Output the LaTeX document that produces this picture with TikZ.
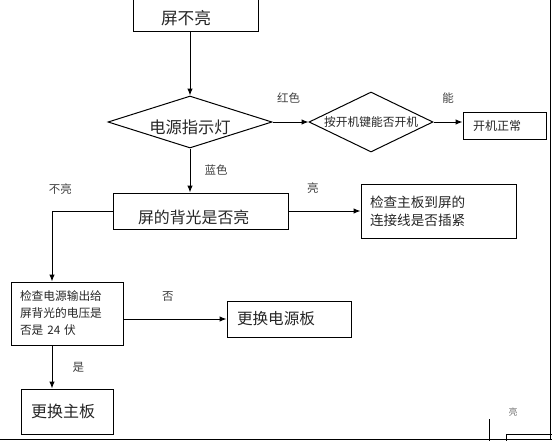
\documentclass[tikz,border=0pt]{standalone}
\usepackage{fontspec}
\newfontfamily\cjk{Noto Sans CJK SC}
\usetikzlibrary{shapes.geometric,arrows.meta}
\tikzset{
  box/.style={draw,rectangle,inner ysep=0pt,align=left,text=black!85},
  choice/.style={draw,diamond,inner sep=0pt,text=black!85},
  tag/.style={inner sep=0pt,text=black!75,font=\cjk\fontsize{11.5}{14}\selectfont},
}
\begin{document}
\begin{tikzpicture}[>={Latex[length=7pt,width=5.5pt]},x=1pt,y=-1pt,line width=1pt]
      \useasboundingbox (0,0) rectangle (552,440);

      \path (195.5,32) node [box,anchor=south,inner xsep=28pt,text width=69pt,text height=40pt,text depth=6.7pt,font=\cjk\fontsize{16.7}{20}\selectfont](box_dark){屏不亮};
      \path (190,122) node [choice,aspect=3.2,minimum width=164pt,minimum height=52pt,text height=24pt,text depth=1.6pt,font=\cjk\fontsize{16.3}{20}\selectfont](dia_power){电源指示灯};
      \path (371,122) node [choice,aspect=2,minimum width=124pt,minimum height=60pt,font=\cjk\fontsize{11.75}{14}\selectfont](dia_check){按开机键能否开机};
      \path (504.5,125.5) node [box,inner xsep=10pt,text width=63pt,minimum height=27pt,font=\cjk\fontsize{12}{14}\selectfont](box_ok){开机正常};
      \path (200.5,211) node [box,inner xsep=25pt,text width=125pt,minimum height=36pt,text height=26pt,text depth=2pt,font=\cjk\fontsize{15.9}{18}\selectfont](box_back){屏的背光是否亮};
      \path (438.5,211) node [box,inner xsep=9pt,text width=137pt,minimum height=54pt,font=\cjk\fontsize{13.6}{18}\selectfont](box_link){检查主板到屏的\\连接线是否插紧};
      \path (67,313.5) node [box,inner xsep=9pt,text width=94pt,minimum height=63pt,font=\cjk\fontsize{11.7}{17}\selectfont](box_power){检查电源输出给\\屏背光的电压是\\否是 24 伏};
      \path (289,319) node [box,inner xsep=10pt,text width=104pt,minimum height=36pt,font=\cjk\fontsize{15.6}{18}\selectfont](box_psu){更换电源板};
      \path (67,411.5) node [box,inner xsep=10pt,text width=72pt,minimum height=45pt,font=\cjk\fontsize{16}{18}\selectfont](box_main){更换主板};

      \draw[->] (box_dark.south -| dia_power.north) -- (dia_power.north);
      \draw[->] (dia_power.east) -- node[tag,above=18pt,pos=.45]{红色} (dia_check.west);
      \draw[->] (dia_check.east) -- node[tag,above=18pt]{能} (dia_check.east -| box_ok.west);
      \draw[->] (dia_power.south) -- node[tag,right=14pt]{蓝色} (dia_power.south |- box_back.north);
      \draw[->] (box_back.west) -| node[tag,pos=.43,above=16pt]{不亮} ([xshift=-15pt]box_power.north);
      \draw[->] (box_back.east) -- node[tag,pos=.34,above=17pt]{亮} (box_link.west);
      \draw[->] (box_power.east |- box_psu.west) -- node[tag,pos=.43,above=17pt]{否} (box_psu.west);
      \draw[->] ([xshift=-15pt]box_power.south) -- node[tag,right=20pt]{是} ([xshift=-15pt]box_main.north);

      % cut-off edge of the page
      \draw (550,0) -- (550,440);
      \draw (0,439) -- (552,439);
      \path (513,412) node [tag,text=black!55,font=\cjk\fontsize{9}{10}\selectfont](tag_cut){亮};
      \path (533,452) node [box,minimum width=54pt,minimum height=36pt,inner xsep=0pt](box_cut){};
      \coordinate (cut_a) at (489,419);
      \coordinate (cut_b) at (489,445);
      \draw (cut_a) -- (cut_b);

\end{tikzpicture}
\end{document}
